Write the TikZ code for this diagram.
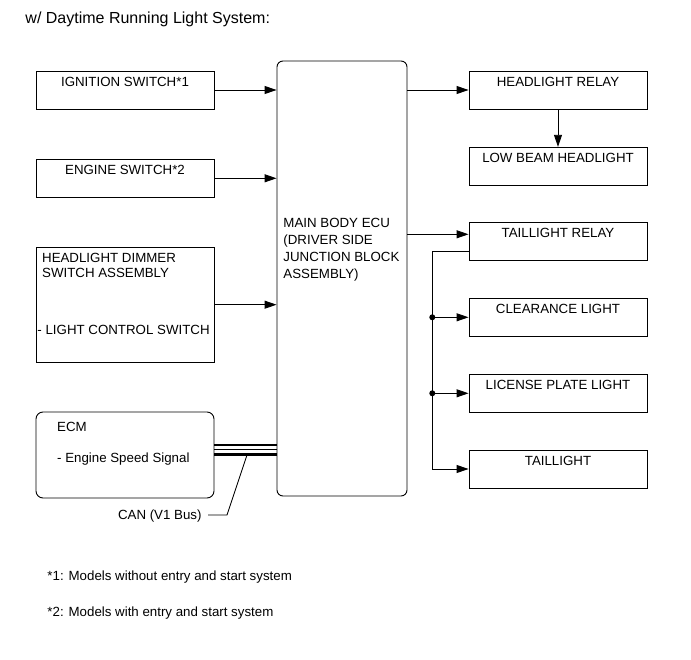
\documentclass[tikz,border=0pt]{standalone}
\usepackage{fontspec}
\setmainfont{Liberation Sans}
\usetikzlibrary{arrows.meta}

\begin{document}
\begin{tikzpicture}[x=1pt,y=-1pt,
  font=\fontsize{13.3}{16}\selectfont,
  line width=0.9pt,
  box/.style={draw, minimum width=178pt, minimum height=38pt, inner sep=0pt},
  txt/.style={inner sep=0pt, anchor=base west},
  sig/.style={-{Triangle[length=12pt,width=8pt]}},
  dot/.style={circle, fill, inner sep=0pt, minimum size=6pt}]
  \useasboundingbox (0,0) rectangle (691,660);
  \node[txt, font=\fontsize{16}{19}\selectfont] (title) at (25,24) {w/ Daytime Running Light System:};

  % inputs
  \node[box] (ign) at (125,90) {};
  \node[box] (eng) at (125,178.3) {};
  \node[box, minimum height=115pt] (dim) at (125,304.7) {};
  \node[box, minimum height=86pt, rounded corners=7pt] (ecm) at (125,455) {};
  % main body ecu
  \node[box, minimum width=130pt, minimum height=435pt, rounded corners=6pt] (ecu) at (342,278.5) {};
  % outputs
  \foreach \n/\y in {hrel/90, low/166.3, trel/241.7, clr/317.3, lic/393.3, tail/469} {
    \node[box] (\n) at (558,\y) {};
  }

  % box texts
  \foreach \n/\t in {ign/IGNITION SWITCH*1, eng/ENGINE SWITCH*2,
      hrel/HEADLIGHT RELAY, low/LOW BEAM HEADLIGHT, trel/TAILLIGHT RELAY,
      clr/CLEARANCE LIGHT, lic/LICENSE PLATE LIGHT, tail/TAILLIGHT} {
    \node (\n-t) at ([yshift=-11pt]\n.north) {\t};
  }
  \foreach \t [count=\i] in {MAIN BODY ECU, {(DRIVER SIDE}, JUNCTION BLOCK, {ASSEMBLY)}} {
    \node[txt] (ecu-\i) at (283,{227.7+17*(\i-1)}) {\t};
  }
  \node[txt] (dim-1) at (41.7,262.8) {HEADLIGHT DIMMER};
  \node[txt] (dim-2) at (41.7,277.8) {SWITCH ASSEMBLY};
  \node[txt] (dim-3) at (37,334.8) {- LIGHT CONTROL SWITCH};
  \node[txt] (ecm-1) at (56.7,431.4) {ECM};
  \node[txt] (ecm-2) at (56.7,462.4) {- Engine Speed Signal};

  % signals in
  \draw[sig] (ign.east) -- (ign.east -| ecu.west);
  \draw[sig] (eng.east) -- (eng.east -| ecu.west);
  \draw[sig] (dim.east) -- (dim.east -| ecu.west);

  % signals out
  \draw[sig] (hrel.west -| ecu.east) -- (hrel.west);
  \draw[sig] (hrel.south) -- (low.north);
  \coordinate (trin) at ([yshift=7.4pt]trel.west);
  \draw[sig] (trin -| ecu.east) -- (trin);
  \coordinate (trout) at ([yshift=-10pt]trel.west);
  \coordinate (bus) at (432.3,251.7);
  \draw[sig] (trout) -- (bus) |- (tail.west);
  \foreach \n in {clr, lic} {
    \node[dot] (\n-d) at (bus |- \n.west) {};
    \draw[sig] (\n-d.center) -- (\n.west);
  }

  % CAN bus
  \coordinate (can1) at ([yshift=10.5pt]ecm.east);
  \coordinate (can2) at ([yshift=5.3pt]ecm.east);
  \coordinate (can3) at ([yshift=0.5pt]ecm.east);
  \draw[line width=2pt] (can1) -- (can1 -| ecu.west);
  \draw[line width=0.8pt] (can2) -- (can2 -| ecu.west);
  \draw[line width=3pt] (can3) -- (can3 -| ecu.west);
  \node[txt, anchor=base east] (canlbl) at (202,519.7) {CAN (V1 Bus)};
  \coordinate (canend) at (208,515);
  \coordinate (canbend) at (227,515);
  \coordinate (cantap) at (247,455);
  \draw[line width=0.8pt] (canend) -- (canbend) -- (cantap);

  % notes
  \node[txt] (note1) at (47,580) {*1: Models without entry and start system};
  \node[txt] (note2) at (47,616) {*2: Models with entry and start system};
\end{tikzpicture}
\end{document}
